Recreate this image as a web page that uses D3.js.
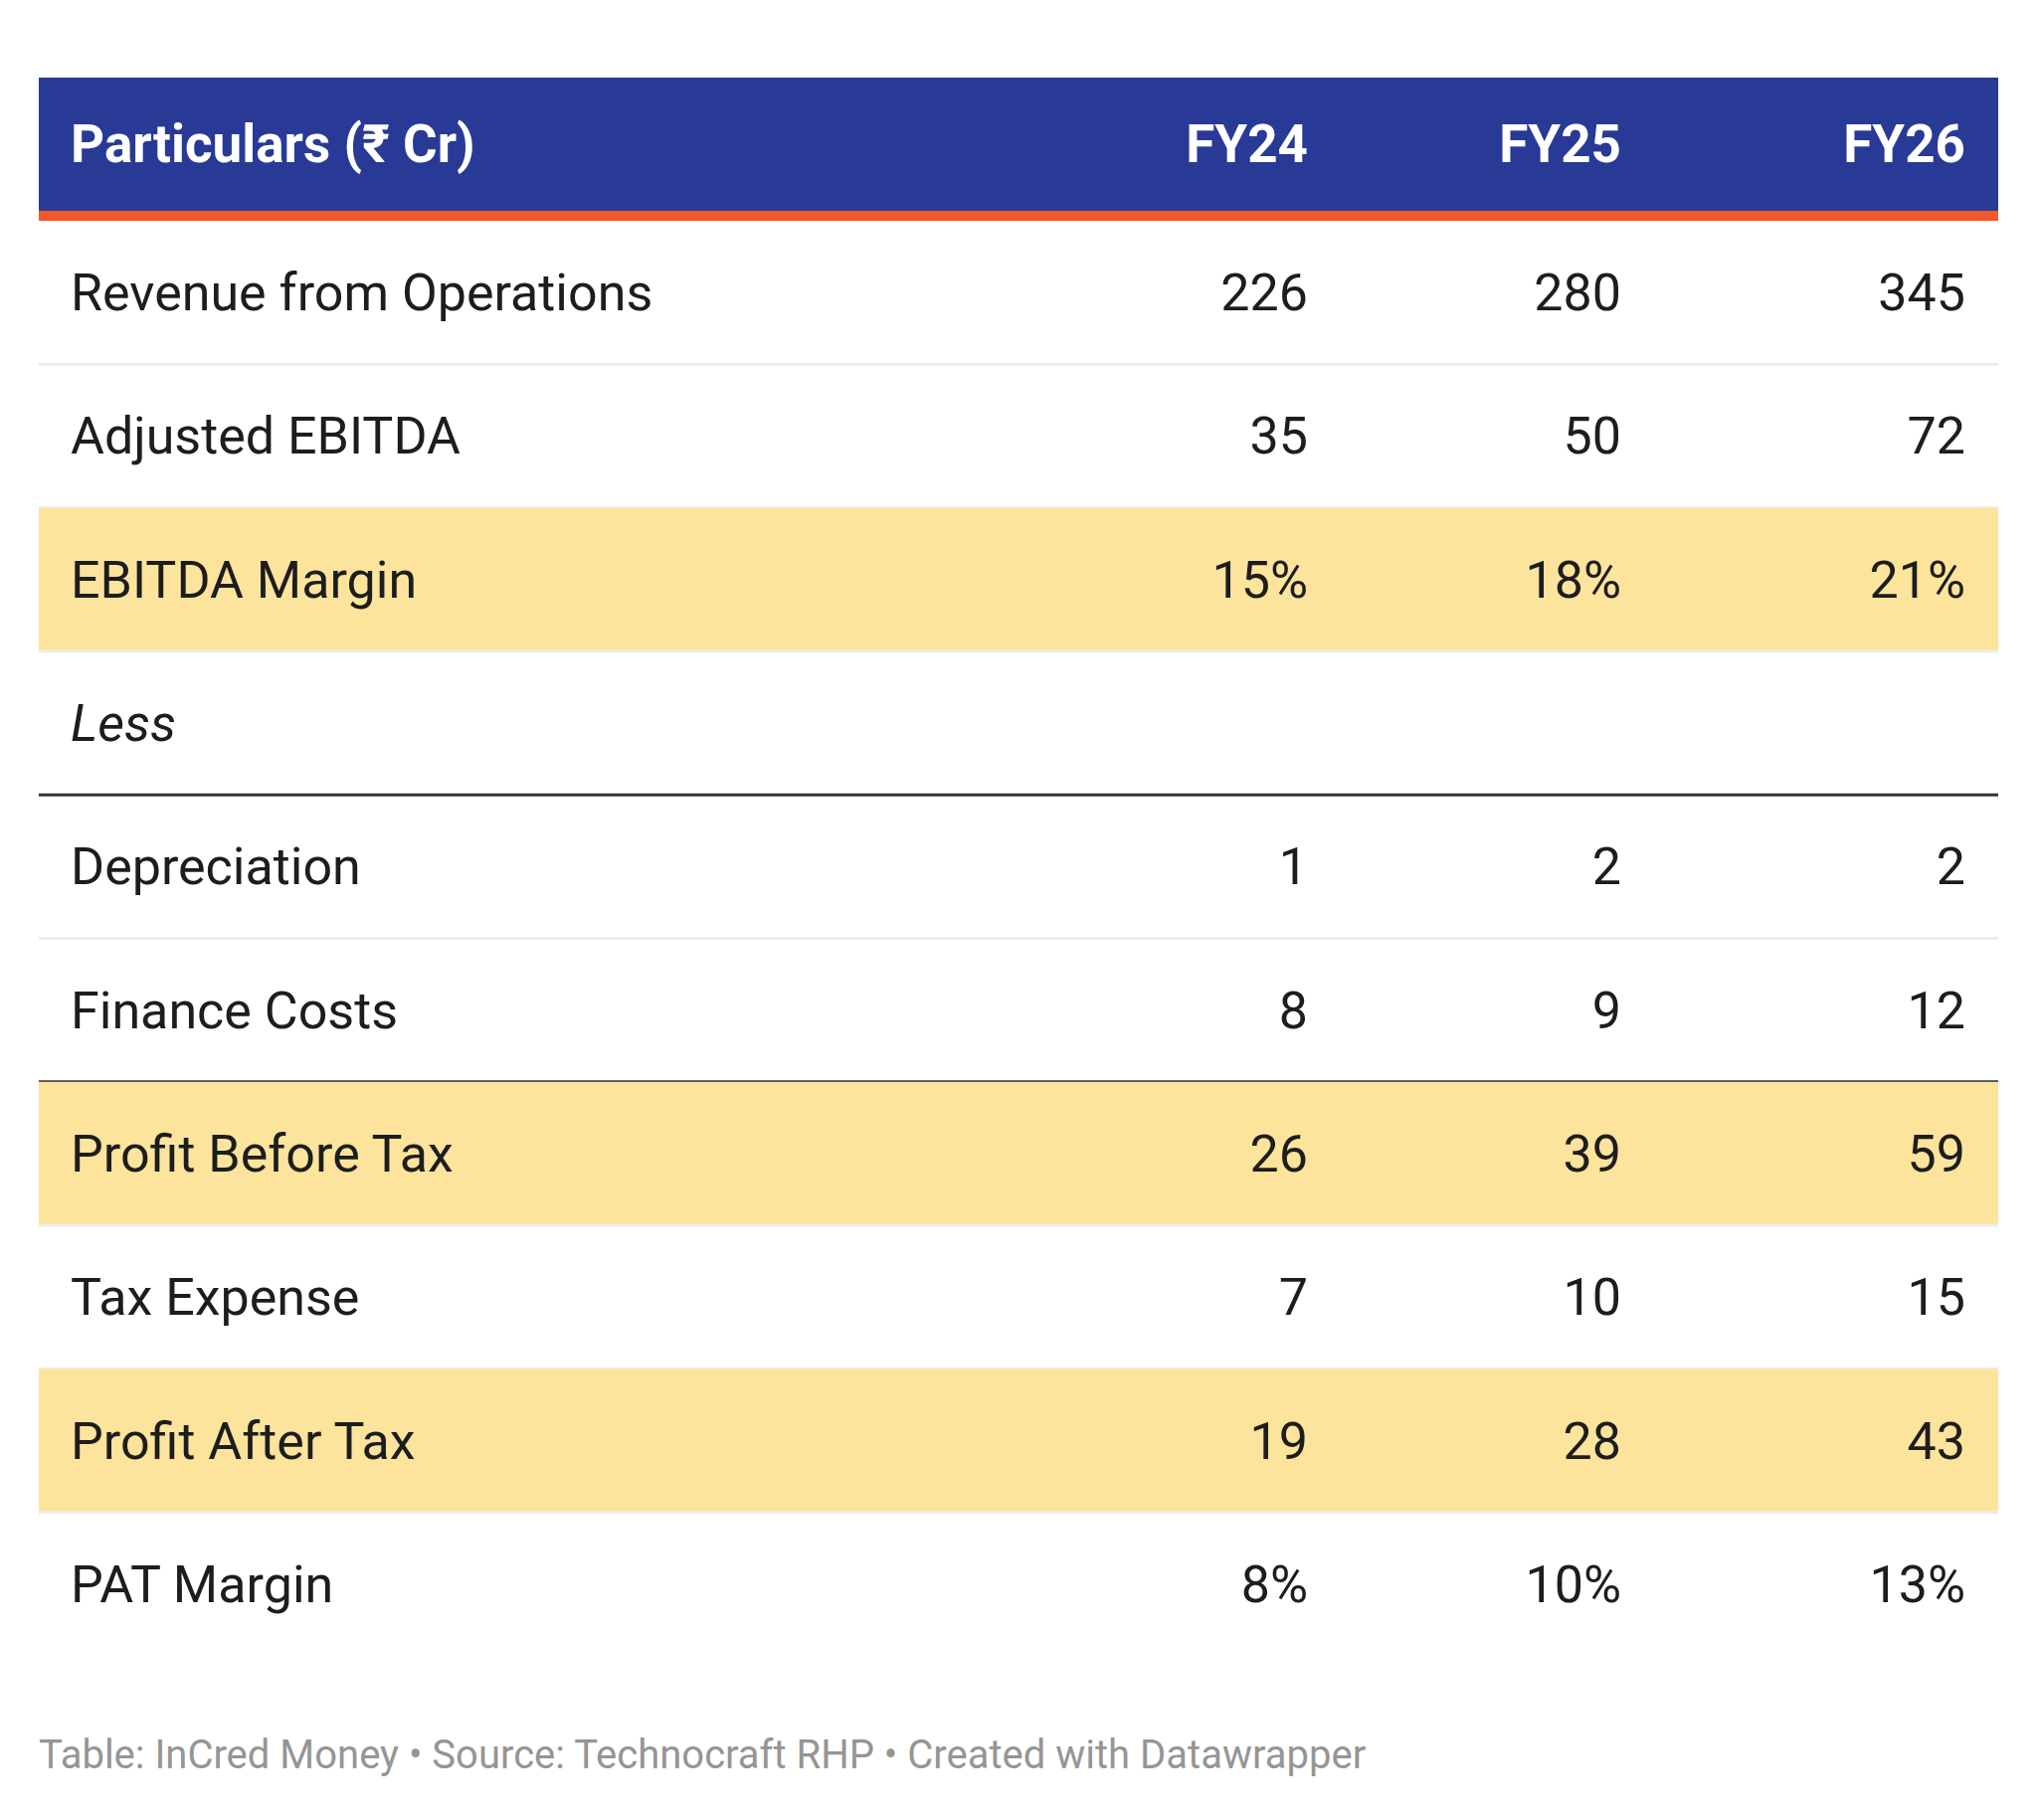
<!DOCTYPE html>
<html><head><meta charset="utf-8">
<script src="https://cdn.jsdelivr.net/npm/d3@7"></script>
<style>body{margin:0;background:#fff}text{font-family:Roboto,sans-serif}</style>
</head><body><svg width="2048" height="1830"></svg>
<script>
// data
const years=['FY24','FY25','FY26']
const labels=['Revenue from Operations','Adjusted EBITDA','EBITDA Margin','Less','Depreciation','Finance Costs','Profit Before Tax','Tax Expense','Profit After Tax','PAT Margin']
const fy24=['226','35','15%','','1','8','26','7','19','8%']
const fy25=['280','50','18%','','2','9','39','10','28','10%']
const fy26=['345','72','21%','','2','12','59','15','43','13%']
const highlighted=['EBITDA Margin','Profit Before Tax','Profit After Tax']
const thickBelow=['Less','Finance Costs']

const svg=d3.select('svg')
const left=39, right=2009, tableTop=78, headH=134, orangeH=10
const rowTop=tableTop+headH+orangeH
const rowH=144.3
const colX={FY24:1315,FY25:1630,FY26:1976}

svg.append('rect').attr('x',left).attr('y',tableTop).attr('width',right-left).attr('height',headH).attr('fill','#283a96')
svg.append('rect').attr('x',left).attr('y',tableTop+headH).attr('width',right-left).attr('height',orangeH).attr('fill','#f05a28')
svg.append('text').attr('x',71).attr('y',tableTop+headH/2+18).attr('fill','#fff').attr('font-size',53).attr('font-weight',700).text('Particulars (₹ Cr)')
years.forEach(y=>svg.append('text').attr('x',colX[y]).attr('y',tableTop+headH/2+18).attr('text-anchor','end').attr('fill','#fff').attr('font-size',53).attr('font-weight',700).text(y))

const y=d3.scaleBand().domain(labels).range([rowTop,rowTop+rowH*labels.length])
const rows=svg.selectAll('g.row').data(labels).join('g').attr('class','row').attr('transform',d=>`translate(0,${y(d)})`)
rows.filter(d=>highlighted.includes(d)).append('rect').attr('x',left).attr('width',right-left).attr('height',y.bandwidth()).attr('fill','#fde49c')
rows.filter((d,i)=>i<labels.length-1).append('line').attr('x1',left).attr('x2',right).attr('y1',y.bandwidth()).attr('y2',y.bandwidth())
  .attr('stroke',d=>thickBelow.includes(d)?'#333':'#ececec').attr('stroke-width',3)
rows.append('text').attr('x',71).attr('y',y.bandwidth()/2+18).attr('font-size',52).attr('fill','#1d1d1d')
  .attr('font-style',d=>d=='Less'?'italic':'normal').text(d=>d)
;[fy24,fy25,fy26].forEach((vals,j)=>{
  rows.append('text').attr('x',colX[years[j]]).attr('y',y.bandwidth()/2+18).attr('text-anchor','end')
    .attr('font-size',52).attr('fill','#1d1d1d').text((d,i)=>vals[i])
})
svg.append('text').attr('x',39).attr('y',1778).attr('font-size',40).attr('fill','#959595')
  .text('Table: InCred Money • Source: Technocraft RHP • Created with Datawrapper')
</script></body></html>
